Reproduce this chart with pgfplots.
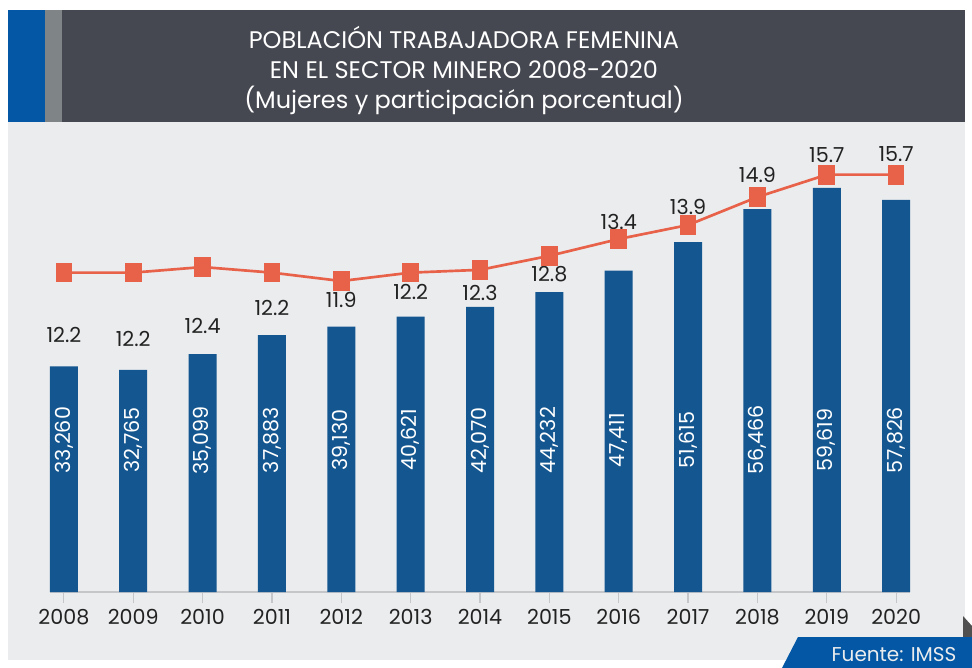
\documentclass[border=0pt]{standalone}
\usepackage{pgfplots}
\pgfplotsset{compat=1.18}
\usepackage{fontspec}
\setmainfont{Poppins}
\definecolor{bandblue}{HTML}{0357A4}
\definecolor{bandgray}{HTML}{7F8487}
\definecolor{banddark}{HTML}{464851}
\definecolor{panel}{HTML}{EBECEE}
\definecolor{barblue}{HTML}{14568F}
\definecolor{lineor}{HTML}{E8624A}
\definecolor{txt}{HTML}{222222}
\definecolor{fold}{HTML}{505050}
\definecolor{axgray}{HTML}{C4C6C9}
\begin{document}
\begin{tikzpicture}
\begin{scope}[x=0.75pt,y=-0.75pt]
\path[use as bounding box] (0,0) rectangle (972,668);
\fill[white] (0,0) rectangle (972,668);
\fill[panel] (8,122) rectangle (965,660);
\fill[bandblue] (8,10) rectangle (45,122);
\fill[bandgray] (45,10) rectangle (62,122);
\fill[banddark] (62,10) rectangle (965,122);
\node[text=white, align=center, font=\fontsize{18}{22.5}\selectfont, inner sep=0pt] at (464,70)
  {POBLACIÓN TRABAJADORA FEMENINA\\EN EL SECTOR MINERO 2008-2020\\(Mujeres y participación porcentual)};
\fill[fold] (963,616) -- (972,626) -- (972,637) -- (963,637) -- cycle;
\fill[bandblue] (798,637) -- (972,637) -- (972,668) -- (782,668) -- cycle;
\node[text=panel, font=\fontsize{15}{17}\selectfont, inner sep=0pt] at (894,655) {Fuente: IMSS};
\coordinate (O) at (50,592);
\end{scope}
\begin{axis}[
  at={(O)}, anchor=south west,
  scale only axis, width=645pt, height=331.5pt,
  xmin=-0.2, xmax=12.2, ymin=0, ymax=65190,
  clip=false,
  axis y line=none,
  axis x line*=bottom,
  axis line style={axgray, line width=0.9pt, -},
  xtick={0,...,12},
  xticklabels={2008,2009,2010,2011,2012,2013,2014,2015,2016,2017,2018,2019,2020},
  xticklabel style={font=\fontsize{15.5}{18}\selectfont, text=txt, yshift=-1pt},
  major tick length=8.25pt,
  tick align=outside,
  tick style={axgray, line width=0.9pt},
]
\addplot[ybar, bar width=21pt, fill=barblue, draw=none] coordinates {
(0,33260) (1,32765) (2,35099) (3,37883) (4,39130) (5,40621) (6,42070)
(7,44232) (8,47411) (9,51615) (10,56466) (11,59619) (12,57826)};
\begin{scope}[every node/.style={rotate=90, text=white, font=\fontsize{15.5}{17}\selectfont, inner sep=0pt}]
\node at (axis cs:0,22400) {33,260};
\node at (axis cs:1,22400) {32,765};
\node at (axis cs:2,22400) {35,099};
\node at (axis cs:3,22400) {37,883};
\node at (axis cs:4,22400) {39,130};
\node at (axis cs:5,22400) {40,621};
\node at (axis cs:6,22400) {42,070};
\node at (axis cs:7,22400) {44,232};
\node at (axis cs:8,22400) {47,411};
\node at (axis cs:9,22400) {51,615};
\node at (axis cs:10,22400) {56,466};
\node at (axis cs:11,22400) {59,619};
\node at (axis cs:12,22400) {57,826};
\end{scope}
\begin{scope}[every node/.style={text=txt, font=\fontsize{15.5}{18}\selectfont, inner sep=0pt}]
\node at (axis cs:0,37906) {12.2};
\node at (axis cs:1,37316) {12.2};
\node at (axis cs:2,39233) {12.4};
\node at (axis cs:3,41888) {12.2};
\node at (axis cs:4,43068) {11.9};
\node at (axis cs:5,44248) {12.2};
\node at (axis cs:6,44100) {12.3};
\node at (axis cs:7,46903) {12.8};
\node at (axis cs:8,54572) {13.4};
\node at (axis cs:9,56785) {13.9};
\node at (axis cs:10,61504) {14.9};
\node at (axis cs:11,64454) {15.7};
\node at (axis cs:12,64602) {15.7};
\end{scope}
\end{axis}
\begin{axis}[
  at={(O)}, anchor=south west,
  scale only axis, width=645pt, height=331.5pt,
  xmin=-0.2, xmax=12.2, ymin=0.793, ymax=16.58,
  clip=false, hide axis,
]
\addplot[color=lineor, line width=2pt, mark=square*, mark size=6.4pt,
  mark options={xscale=0.82, solid, fill=lineor, draw=none}] coordinates {
(0,12.2) (1,12.2) (2,12.4) (3,12.2) (4,11.9) (5,12.2) (6,12.3)
(7,12.8) (8,13.4) (9,13.9) (10,14.9) (11,15.7) (12,15.7)};
\end{axis}
\end{tikzpicture}
\end{document}
